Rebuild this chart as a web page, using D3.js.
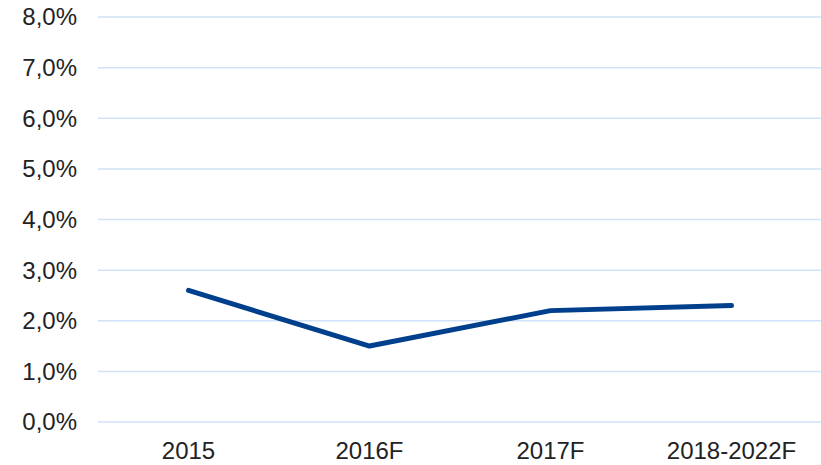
<!DOCTYPE html>
<html><head><meta charset="utf-8">
<script src="https://cdn.jsdelivr.net/npm/d3@7"></script>
<style>body{margin:0;background:#fff}svg{display:block}</style>
</head><body>
<svg id="chart" width="821" height="465"></svg>
<script>
const categories = ["2015", "2016F", "2017F", "2018-2022F"];
const values = [0.026, 0.015, 0.022, 0.023];
const yTicks = [0, 0.01, 0.02, 0.03, 0.04, 0.05, 0.06, 0.07, 0.08];

(function () {
const svg = d3.select("#chart");
const mLeft = 98, mRight = 822, mTop = 17, mBottom = 422;
const x = d3.scaleBand().domain(categories).range([mLeft, mRight]);
const y = d3.scaleLinear().domain([0, 0.08]).range([mBottom, mTop]);
const fmt = v => d3.format(".1f")(v * 100).replace(".", ",") + "%";
const font = "'Liberation Sans', Arial, sans-serif";

svg.append("g").selectAll("line").data(yTicks).join("line")
  .attr("x1", mLeft).attr("x2", 821)
  .attr("y1", d => y(d)).attr("y2", d => y(d))
  .attr("stroke", "#cfe2f7").attr("stroke-width", 1.5);

svg.append("g").selectAll("text").data(yTicks).join("text")
  .attr("x", 77).attr("y", d => y(d)).attr("dy", "0.35em")
  .attr("text-anchor", "end")
  .attr("font-family", font).attr("font-size", 24).attr("fill", "#222")
  .text(fmt);

svg.append("g").selectAll("text").data(categories).join("text")
  .attr("x", d => x(d) + x.bandwidth() / 2).attr("y", 459)
  .attr("text-anchor", "middle")
  .attr("font-family", font).attr("font-size", 24).attr("fill", "#222")
  .text(d => d);

const line = d3.line()
  .x((d, i) => x(categories[i]) + x.bandwidth() / 2)
  .y(d => y(d));
svg.append("path").datum(values)
  .attr("d", line)
  .attr("fill", "none").attr("stroke", "#003f8c")
  .attr("stroke-width", 5).attr("stroke-linecap", "round").attr("stroke-linejoin", "round");
})();
</script>
</body></html>
